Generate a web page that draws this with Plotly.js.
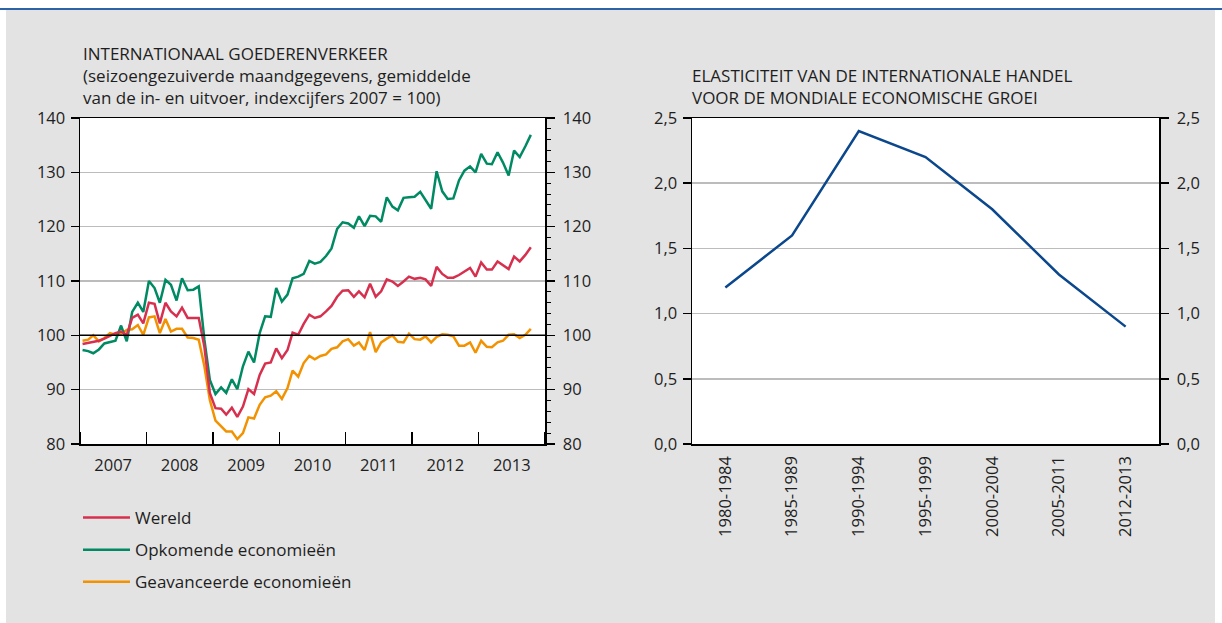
<!DOCTYPE html>
<html><head><meta charset="utf-8">
<script src="https://cdn.plot.ly/plotly-3.0.1.min.js"></script>
<style>html,body{margin:0;padding:0;background:#fff}#chart{width:1222px;height:623px}</style>
</head><body><div id="chart"></div>
<script>
// ---- Data ----
const startYear = 2007;
const wereld = [98.4,98.6,98.8,99.0,99.4,99.9,100.4,100.7,100.1,103.2,103.8,102.2,
  106.0,105.8,102.2,106.0,104.4,103.5,105.1,103.2,103.2,103.2,97.9,89.4,
  86.6,86.5,85.4,86.7,85.0,86.9,90.1,89.2,92.7,94.8,95.0,97.6,
  95.8,97.3,100.5,100.1,102.1,103.8,103.2,103.5,104.4,105.4,107.1,108.2,
  108.3,107.1,108.1,107.0,109.5,107.1,108.1,110.3,109.9,109.1,109.9,110.8,
  110.4,110.6,110.3,109.1,112.6,111.3,110.6,110.6,111.1,111.7,112.4,110.8,
  113.4,112.1,112.1,113.6,112.9,112.2,114.5,113.6,114.8,116.2];
const opkomend = [97.3,97.1,96.7,97.4,98.5,98.8,99.0,101.8,98.9,104.3,106.0,104.3,
  110.0,108.7,106.0,110.2,109.3,106.4,110.5,108.3,108.4,109.0,99.2,91.8,
  89.2,90.4,89.4,91.9,90.1,94.3,97.0,95.0,100.4,103.5,103.4,108.7,
  106.2,107.5,110.5,110.8,111.3,113.7,113.2,113.5,114.6,116.0,119.6,120.8,
  120.6,119.8,121.9,120.1,122.0,121.9,120.9,125.4,123.7,123.0,125.3,125.4,
  125.5,126.4,124.8,123.3,130.2,126.5,125.1,125.2,128.5,130.3,131.1,130.0,
  133.4,131.6,131.5,133.7,131.8,129.4,134.0,132.8,134.8,136.9];
const geavanceerd = [99.0,99.2,100.0,98.9,99.5,100.4,100.1,100.3,101.0,101.1,101.9,100.1,
  103.3,103.5,100.4,103.0,100.7,101.2,101.2,99.6,99.5,99.2,94.3,88.1,
  84.3,83.2,82.3,82.3,80.9,82.0,84.9,84.7,87.2,88.6,88.9,89.7,
  88.3,90.3,93.5,92.4,94.9,96.2,95.6,96.2,96.5,97.5,97.8,98.9,
  99.3,98.1,98.7,97.3,100.6,96.9,98.7,99.4,100.0,98.8,98.7,100.3,
  99.3,99.2,99.8,98.7,99.7,100.2,100.1,99.8,98.1,98.1,98.7,96.8,
  99.0,97.9,97.8,98.7,99.0,100.1,100.2,99.5,100.1,101.2];
const seriesNames = ['Wereld','Opkomende economieën','Geavanceerde economieën'];
const leftTicks = [80,90,100,110,120,130,140];
const periods = ['1980-1984','1985-1989','1990-1994','1995-1999','2000-2004','2005-2011','2012-2013'];
const elasticiteit = [1.2,1.6,2.4,2.2,1.8,1.3,0.9];
const rightTicks = [0,0.5,1.0,1.5,2.0,2.5];
const leftTitle = ['INTERNATIONAAL GOEDERENVERKEER','(seizoengezuiverde maandgegevens, gemiddelde','van de in- en uitvoer, indexcijfers 2007 = 100)'];
const rightTitle = ['ELASTICITEIT VAN DE INTERNATIONALE HANDEL','VOOR DE MONDIALE ECONOMISCHE GROEI'];

// month dates (mid-month) for the monthly series
const months = wereld.map((_, i) => {
  const y = startYear + Math.floor(i / 12), m = i % 12 + 1;
  return y + '-' + String(m).padStart(2, '0') + '-15';
});

// ---- Styling ----
const W = 1222, H = 623;
const FONT = '"Open Sans", "Noto Sans", sans-serif';
const TXT = '#1e1e1e';
const cRed = '#d7304f', cGreen = '#008a63', cOrange = '#f39200', cBlue = '#0b478c';
const px = v => v / W, py = v => 1 - v / H;
const yDom = [py(444), py(118)];

const traces = [
  {x: months, y: geavanceerd, name: seriesNames[2], type: 'scatter', mode: 'lines',
   line: {color: cOrange, width: 2.5}, xaxis: 'x', yaxis: 'y', legendgroup: 'c', legendrank: 3, hoverinfo: 'skip'},
  {x: months, y: opkomend, name: seriesNames[1], type: 'scatter', mode: 'lines',
   line: {color: cGreen, width: 2.5}, xaxis: 'x', yaxis: 'y', legendgroup: 'b', legendrank: 2, hoverinfo: 'skip'},
  {x: months, y: wereld, name: seriesNames[0], type: 'scatter', mode: 'lines',
   line: {color: cRed, width: 2.5}, xaxis: 'x', yaxis: 'y', legendgroup: 'a', legendrank: 1, hoverinfo: 'skip'},
  {x: months, y: wereld, type: 'scatter', mode: 'lines', line: {width: 0, color: 'rgba(0,0,0,0)'},
   xaxis: 'x', yaxis: 'y2', showlegend: false, hoverinfo: 'skip'},
  {x: periods, y: elasticiteit, type: 'scatter', mode: 'lines',
   line: {color: cBlue, width: 2.5}, xaxis: 'x2', yaxis: 'y3', showlegend: false, hoverinfo: 'skip'},
  {x: periods, y: elasticiteit, type: 'scatter', mode: 'lines', line: {width: 0, color: 'rgba(0,0,0,0)'},
   xaxis: 'x2', yaxis: 'y4', showlegend: false, hoverinfo: 'skip'}
];

const tickFont = {family: FONT, size: 16.5, color: TXT};
const gridC = '#bcbcbc';
const titleFont = {family: FONT, size: 17, color: TXT};

const annotations = [];
leftTitle.forEach((t, i) => annotations.push({text: t, xref: 'paper', yref: 'paper', x: px(81), y: py(53 + 22 * i),
  xanchor: 'left', yanchor: 'middle', showarrow: false, font: titleFont}));
rightTitle.forEach((t, i) => annotations.push({text: t, xref: 'paper', yref: 'paper', x: px(690), y: py(75 + 22 * i),
  xanchor: 'left', yanchor: 'middle', showarrow: false, font: titleFont}));

const yCommon = {ticks: 'outside', ticklen: 8, tickwidth: 1.5, tickcolor: '#000', showline: true, linecolor: '#000',
  linewidth: 1.5, zeroline: false, tickfont: tickFont, fixedrange: true};

const layout = {
  width: W, height: H,
  margin: {l: 0, r: 0, t: 0, b: 0},
  paper_bgcolor: '#e3e3e3', plot_bgcolor: '#ffffff',
  separators: ',.',
  font: {family: FONT, color: TXT, size: 16},
  showlegend: true,
  legend: {x: px(78), y: py(500), xanchor: 'left', yanchor: 'top', bgcolor: 'rgba(0,0,0,0)', itemwidth: 47,
    font: {family: FONT, size: 17, color: TXT}, tracegroupgap: 7, traceorder: 'grouped'},
  xaxis: {domain: [px(80), px(545)], anchor: 'y', type: 'date', range: ['2007-01-01', '2014-01-01'],
    tickmode: 'linear', tick0: '2007-01-01', dtick: 'M12', tickformat: '%Y', ticklabelmode: 'period',
    ticks: 'inside', ticklen: 12, tickwidth: 1.5, tickcolor: '#000', showline: true, linecolor: '#000', linewidth: 1.5,
    mirror: true, showgrid: false, zeroline: false, tickfont: tickFont, ticklabelstandoff: 6, fixedrange: true},
  yaxis: Object.assign({domain: yDom, anchor: 'x', range: [80, 140], tickvals: leftTicks, showgrid: true,
    gridcolor: gridC, gridwidth: 1.5, ticklabelstandoff: 2}, yCommon),
  yaxis2: Object.assign({overlaying: 'y', side: 'right', anchor: 'x', range: [80, 140], tickvals: leftTicks,
    showgrid: false, ticklabelstandoff: 5,
    minor: {dtick: 2, ticks: 'outside', ticklen: 4, tickcolor: '#000', tickwidth: 1, showgrid: false}}, yCommon),
  xaxis2: {domain: [px(692), px(1159)], anchor: 'y3', type: 'category', range: [-0.5, 6.5], tickangle: -90,
    ticks: '', showline: true, linecolor: '#000', linewidth: 1.5, mirror: true, showgrid: false, zeroline: false,
    tickfont: tickFont, ticklabelstandoff: 4, fixedrange: true},
  yaxis3: Object.assign({domain: yDom, anchor: 'x2', range: [0, 2.5], tickvals: rightTicks, tickformat: '.1f',
    showgrid: true, gridcolor: gridC, gridwidth: 1.5, ticklabelstandoff: 2}, yCommon),
  yaxis4: Object.assign({overlaying: 'y3', side: 'right', anchor: 'x2', range: [0, 2.5], tickvals: rightTicks,
    tickformat: '.1f', showgrid: false, ticklabelstandoff: 5}, yCommon),
  shapes: [
    {type: 'line', xref: 'x domain', yref: 'y', x0: 0, x1: 1, y0: 100, y1: 100, line: {color: '#000', width: 1.5}, layer: 'above'},
    {type: 'rect', xref: 'paper', yref: 'paper', x0: 0, x1: 1, y0: py(8), y1: 1, fillcolor: '#ffffff', line: {width: 0}},
    {type: 'rect', xref: 'paper', yref: 'paper', x0: 0, x1: px(6), y0: 0, y1: 1, fillcolor: '#ffffff', line: {width: 0}},
    {type: 'rect', xref: 'paper', yref: 'paper', x0: px(1215), x1: 1, y0: 0, y1: 1, fillcolor: '#ffffff', line: {width: 0}},
    {type: 'line', xref: 'paper', yref: 'paper', x0: 0, x1: 1, y0: py(9), y1: py(9), line: {color: '#2b63a6', width: 2}}
  ],
  annotations: annotations
};

Plotly.newPlot('chart', traces, layout, {staticPlot: true, displayModeBar: false});
</script>
</body></html>
